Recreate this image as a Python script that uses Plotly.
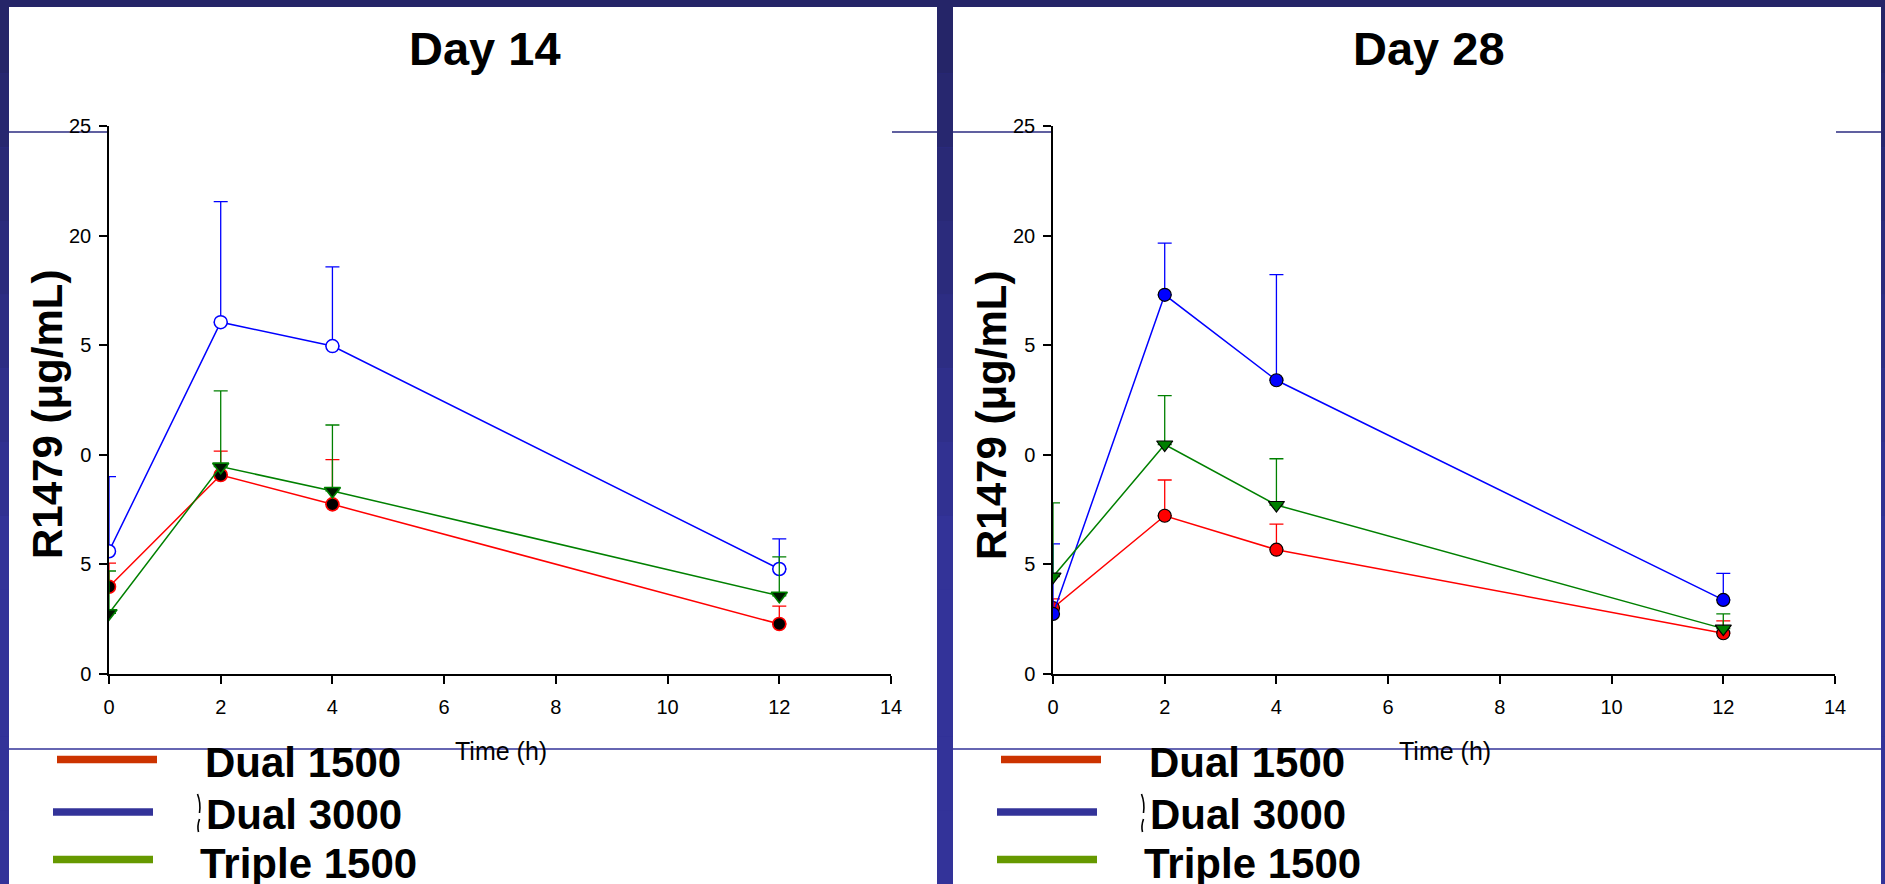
import plotly.graph_objects as go

# Sampling times (h)
times = [0, 2, 4, 12]

# Day 14: mean concentration and upper SD per regimen
day14_dual1500 = [3.98, 9.08, 7.74, 2.28]
day14_dual1500_sd = [1.08, 1.09, 2.04, 0.82]
day14_dual3000 = [5.60, 16.05, 14.96, 4.79]
day14_dual3000_sd = [3.40, 5.50, 3.61, 1.37]
day14_triple1500 = [2.77, 9.46, 8.35, 3.57]
day14_triple1500_sd = [1.93, 3.46, 3.01, 1.77]

# Day 28: mean concentration and upper SD per regimen
day28_dual1500 = [3.01, 7.22, 5.67, 1.86]
day28_dual1500_sd = [0.42, 1.63, 1.17, 0.56]
day28_dual3000 = [2.74, 17.30, 13.40, 3.38]
day28_dual3000_sd = [3.20, 2.36, 4.82, 1.21]
day28_triple1500 = [4.44, 10.47, 7.71, 2.07]
day28_triple1500_sd = [3.37, 2.23, 2.11, 0.67]

series_names = ["Dual 1500", "Dual 3000", "Triple 1500"]
panel_titles = ["Day 14", "Day 28"]
y_tickvals = [0, 5, 10, 15, 20, 25]
y_ticktext = ["0", "5", "0", "5", "20", "25"]
x_tickvals = [0, 2, 4, 6, 8, 10, 12, 14]
y_title = "R1479 (μg/mL)"
x_title = "Time (h)"

W, H = 1885, 884
FONT = "Arial, 'Liberation Sans', Helvetica, sans-serif"


def fx(x):
    return x / W


def fy(y):
    return 1 - y / H


line_colors = {"Dual 1500": "#ff0000", "Dual 3000": "#0000ff", "Triple 1500": "#008000"}
legend_colors = {"Dual 1500": "#cc3300", "Dual 3000": "#333399", "Triple 1500": "#669900"}

panels = [
    {
        "xa": "x", "ya": "y", "offset": 0,
        "data": {"Dual 1500": (day14_dual1500, day14_dual1500_sd),
                 "Dual 3000": (day14_dual3000, day14_dual3000_sd),
                 "Triple 1500": (day14_triple1500, day14_triple1500_sd)},
        "markers": {"Dual 1500": dict(symbol="circle", color="#000000", line=dict(color="#ff0000", width=1.6)),
                    "Dual 3000": dict(symbol="circle", color="#ffffff", line=dict(color="#0000ff", width=1.5)),
                    "Triple 1500": dict(symbol="triangle-down", color="#001800", line=dict(color="#008000", width=1.6))},
    },
    {
        "xa": "x2", "ya": "y2", "offset": 944,
        "data": {"Dual 1500": (day28_dual1500, day28_dual1500_sd),
                 "Dual 3000": (day28_dual3000, day28_dual3000_sd),
                 "Triple 1500": (day28_triple1500, day28_triple1500_sd)},
        "markers": {"Dual 1500": dict(symbol="circle", color="#ff0000", line=dict(color="#000000", width=1.2)),
                    "Dual 3000": dict(symbol="circle", color="#0000ff", line=dict(color="#000000", width=1.2)),
                    "Triple 1500": dict(symbol="triangle-down", color="#008000", line=dict(color="#000000", width=1.2))},
    },
]

fig = go.Figure()

for p in panels:
    for name in series_names:
        mean, sd = p["data"][name]
        mk = dict(p["markers"][name])
        mk["size"] = 14 if mk["symbol"] == "triangle-down" else 13
        fig.add_trace(go.Scatter(
            x=times, y=mean, xaxis=p["xa"], yaxis=p["ya"], name=name,
            mode="lines+markers", showlegend=False,
            line=dict(color=line_colors[name], width=1.5),
            marker=mk,
            error_y=dict(type="data", symmetric=False, array=sd, arrayminus=[0] * len(sd),
                         color=line_colors[name], thickness=1.3, width=7),
        ))

axis_common = dict(
    showline=True, linecolor="#000000", linewidth=1.5,
    ticks="outside", ticklen=8, tickwidth=1.5, tickcolor="#000000",
    showgrid=False, zeroline=False, fixedrange=True, automargin=False,
    tickfont=dict(family=FONT, size=20, color="#000000"),
)

fig.update_layout(
    width=W, height=H, autosize=False,
    margin=dict(l=0, r=0, t=0, b=0, pad=0, autoexpand=False),
    paper_bgcolor="#333399", plot_bgcolor="rgba(0,0,0,0)",
    font=dict(family=FONT, color="#000000"),
    xaxis=dict(domain=[fx(109), fx(891)], range=[0, 14], tickvals=x_tickvals, anchor="y",
               ticklabelstandoff=6, **axis_common),
    yaxis=dict(domain=[fy(674), fy(126)], range=[0, 25], tickvals=y_tickvals, ticktext=y_ticktext,
               anchor="x", ticklabelstandoff=4, **axis_common),
    xaxis2=dict(domain=[fx(1053), fx(1835)], range=[0, 14], tickvals=x_tickvals, anchor="y2",
                ticklabelstandoff=6, **axis_common),
    yaxis2=dict(domain=[fy(674), fy(126)], range=[0, 25], tickvals=y_tickvals, ticktext=y_ticktext,
                anchor="x2", ticklabelstandoff=4, **axis_common),
)

shapes = []

# slide backdrop: darker navy towards the top
bands = 12
top_rgb = (0x25, 0x25, 0x68)
bot_rgb = (0x33, 0x33, 0x99)
for i in range(bands):
    t = min(1.0, i / (bands * 0.6))
    c = tuple(int(round(a + (b - a) * t)) for a, b in zip(top_rgb, bot_rgb))
    y0 = i * H / bands
    y1 = (i + 1) * H / bands
    shapes.append(dict(type="rect", xref="paper", yref="paper", layer="below",
                       x0=0, x1=1, y0=fy(y1), y1=fy(y0),
                       fillcolor="rgb(%d,%d,%d)" % c, line=dict(width=0)))

rule_color = "#2b2b80"
for p in panels:
    o = p["offset"]
    # white panel
    shapes.append(dict(type="rect", xref="paper", yref="paper", layer="below",
                       x0=fx(9 + o), x1=fx(937 + o), y0=fy(884), y1=fy(7),
                       fillcolor="#ffffff", line=dict(width=0)))
    # thin rules across the panel
    for xa, xb in [(9, 109), (892, 937)]:
        shapes.append(dict(type="line", xref="paper", yref="paper", layer="below",
                           x0=fx(xa + o), x1=fx(xb + o), y0=fy(132), y1=fy(132),
                           line=dict(color=rule_color, width=1.3)))
    shapes.append(dict(type="line", xref="paper", yref="paper", layer="below",
                       x0=fx(9 + o), x1=fx(937 + o), y0=fy(749), y1=fy(749),
                       line=dict(color="#333399", width=1.3)))
    # legend swatches
    for name, (xa, xb, yy) in zip(series_names, [(57, 157, 759.5), (53, 153, 812), (53, 153, 859.5)]):
        shapes.append(dict(type="line", xref="paper", yref="paper",
                           x0=fx(xa + o), x1=fx(xb + o), y0=fy(yy), y1=fy(yy),
                           line=dict(color=legend_colors[name], width=7.5)))
    # clipped bracket fragment before the second legend entry
    shapes.append(dict(type="path", xref="paper", yref="paper",
                       path="M %f,%f Q %f,%f %f,%f M %f,%f Q %f,%f %f,%f" % (
                           fx(197.5 + o), fy(794), fx(201 + o), fy(803), fx(199.5 + o), fy(813),
                           fx(199.5 + o), fy(819), fx(197 + o), fy(826), fx(198.5 + o), fy(832)),
                       line=dict(color="#000000", width=1.6)))

annotations = []
for p, title in zip(panels, panel_titles):
    o = p["offset"]
    annotations.append(dict(xref="paper", yref="paper", x=fx(485 + o), y=fy(48),
                            xanchor="center", yanchor="middle", showarrow=False, text="<b>%s</b>" % title,
                            font=dict(family=FONT, size=47, color="#000000")))
    annotations.append(dict(xref="paper", yref="paper", x=fx(47 + o), y=fy(415),
                            xanchor="center", yanchor="middle", showarrow=False, textangle=-90,
                            text="<b>%s</b>" % y_title,
                            font=dict(family=FONT, size=42, color="#000000")))
    annotations.append(dict(xref="paper", yref="paper", x=fx(501 + o), y=fy(751),
                            xanchor="center", yanchor="middle", showarrow=False, text=x_title,
                            font=dict(family=FONT, size=25, color="#000000")))
    for name, (lx, ly) in zip(series_names, [(203, 762), (204, 814), (198, 863)]):
        annotations.append(dict(xref="paper", yref="paper", x=fx(lx + o), y=fy(ly),
                                xanchor="left", yanchor="middle", showarrow=False,
                                text="<b>%s</b>" % name,
                                font=dict(family=FONT, size=42, color="#000000")))

fig.update_layout(shapes=shapes, annotations=annotations)

fig.write_html("out.html")
